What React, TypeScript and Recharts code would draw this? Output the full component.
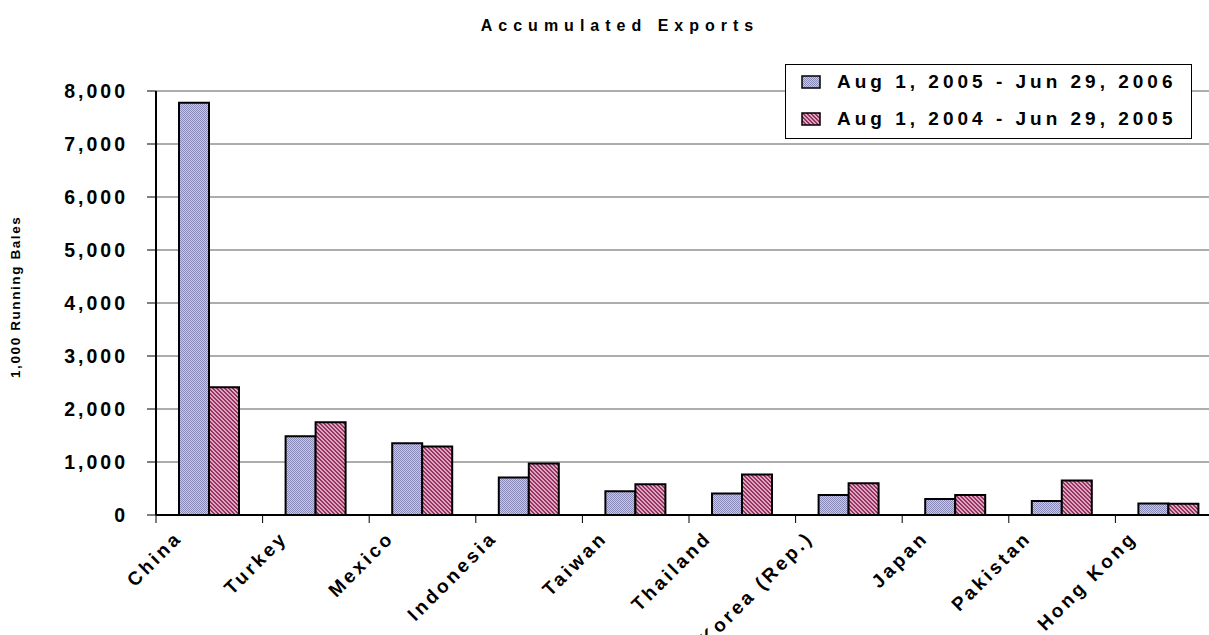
import { Bar, BarChart, CartesianGrid, XAxis, YAxis } from "recharts";

const countries = [
  "China",
  "Turkey",
  "Mexico",
  "Indonesia",
  "Taiwan",
  "Thailand",
  "Korea (Rep.)",
  "Japan",
  "Pakistan",
  "Hong Kong",
];
const current = [7780, 1485, 1353, 706, 447, 404, 377, 302, 264, 215];
const previous = [2410, 1751, 1291, 970, 579, 762, 598, 377, 649, 212];
const yTicks = [0, 1000, 2000, 3000, 4000, 5000, 6000, 7000, 8000];
const seriesNames = ["Aug 1, 2005 - Jun 29, 2006", "Aug 1, 2004 - Jun 29, 2005"];

const data = countries.map((name, i) => ({
  name,
  current: current[i],
  previous: previous[i],
}));

const FONT = "'Liberation Sans', Arial, sans-serif";
const CHART_W = 1230;
const PLOT_LEFT = 156;
const PLOT_RIGHT = 8;
const BAND = (CHART_W - PLOT_LEFT - PLOT_RIGHT) / countries.length;
const AXIS_Y = 515;

function XTick({ x, payload }: any) {
  // longer labels sit a bit further left, like the original
  const shift = 20 + 1.2 * String(payload.value).length;
  return (
    <g>
      <line x1={x - BAND / 2} y1={AXIS_Y} x2={x - BAND / 2} y2={AXIS_Y + 8} stroke="#000" strokeWidth={1} />
      <text
        transform={`translate(${x - shift},${AXIS_Y + 24}) rotate(-45)`}
        textAnchor="end"
        fontFamily={FONT}
        fontWeight="bold"
        fontSize={19}
        letterSpacing={3.2}
        fill="#000"
      >
        {payload.value}
      </text>
    </g>
  );
}

function YTick({ y, payload }: any) {
  return (
    <text
      x={128}
      y={y}
      dy="0.36em"
      textAnchor="end"
      fontFamily={FONT}
      fontWeight="bold"
      fontSize={19.5}
      letterSpacing={3}
      fill="#000"
    >
      {payload.value.toLocaleString("en-US")}
    </text>
  );
}

function YLabel() {
  return (
    <g>
      <defs>
        <clipPath id="ylabelClip">
          <rect x={0} y={214} width={40} height={200} />
        </clipPath>
      </defs>
      <g clipPath="url(#ylabelClip)">
        <text
          transform="translate(20,378) rotate(-90)"
          textAnchor="start"
          fontFamily={FONT}
          fontWeight="bold"
          fontSize={13.5}
          letterSpacing={1.6}
          fill="#000"
        >
          1,000 Running Bales
        </text>
      </g>
    </g>
  );
}

function LegendBox() {
  const fills = ["url(#patBlue)", "url(#patPink)"];
  return (
    <div
      style={{
        position: "absolute",
        left: 785,
        top: 64,
        background: "#fff",
        border: "1.5px solid #000",
        width: 407,
        height: 75,
        boxSizing: "border-box",
        padding: "1px 0 0 15px",
      }}
    >
      {seriesNames.map((s, i) => (
        <div key={s} style={{ display: "flex", alignItems: "center", height: 32, marginBottom: 5 }}>
          <svg width={20} height={14} style={{ marginRight: 16 }}>
            <rect x={1} y={1} width={18} height={12} fill={fills[i]} stroke="#000" strokeWidth={1.5} />
          </svg>
          <span
            style={{
              fontFamily: FONT,
              fontWeight: "bold",
              fontSize: 19,
              letterSpacing: 4,
              color: "#000",
              whiteSpace: "nowrap",
            }}
          >
            {s}
          </span>
        </div>
      ))}
    </div>
  );
}

export default function App() {
  return (
    <div
      style={{
        position: "absolute",
        left: 0,
        top: 0,
        width: 1209,
        height: 635,
        overflow: "hidden",
        background: "#fff",
      }}
    >
      <svg width={0} height={0} style={{ position: "absolute" }}>
        <defs>
          <pattern id="patBlue" width={2} height={2} patternUnits="userSpaceOnUse">
            <rect width={2} height={2} fill="#c8c8de" />
            <rect width={1} height={1} fill="#8a8ab8" />
            <rect x={1} y={1} width={1} height={1} fill="#8a8ab8" />
          </pattern>
          <pattern id="patPink" width={4} height={4} patternUnits="userSpaceOnUse">
            <rect width={4} height={4} fill="#dca8be" />
            <rect x={0} y={0} width={2} height={1} fill="#993366" />
            <rect x={1} y={1} width={2} height={1} fill="#993366" />
            <rect x={2} y={2} width={2} height={1} fill="#993366" />
            <rect x={3} y={3} width={1} height={1} fill="#993366" />
            <rect x={0} y={3} width={1} height={1} fill="#993366" />
          </pattern>
        </defs>
      </svg>
      <div
        style={{
          position: "absolute",
          left: 0,
          top: 17,
          width: 1240,
          textAlign: "center",
          fontFamily: FONT,
          fontWeight: "bold",
          fontSize: 16,
          letterSpacing: 6,
          color: "#000",
        }}
      >
        Accumulated Exports
      </div>
      <BarChart
        width={CHART_W}
        height={635}
        data={data}
        margin={{ top: 91, right: PLOT_RIGHT, bottom: 20, left: 56 }}
        barSize={30}
        barGap={0}
      >
        <CartesianGrid horizontal={true} vertical={false} stroke="#5a5a5a" strokeWidth={1} />
        <XAxis
          dataKey="name"
          interval={0}
          height={100}
          axisLine={{ stroke: "#000", strokeWidth: 2 }}
          tickLine={false}
          tick={<XTick />}
        />
        <YAxis
          width={100}
          domain={[0, 8000]}
          ticks={yTicks}
          interval={0}
          axisLine={{ stroke: "#000", strokeWidth: 2 }}
          tickLine={{ stroke: "#000", strokeWidth: 1 }}
          tickSize={9}
          tick={<YTick />}
          label={<YLabel />}
        />
        <Bar dataKey="current" name={seriesNames[0]} fill="url(#patBlue)" stroke="#000" strokeWidth={2} isAnimationActive={false} />
        <Bar dataKey="previous" name={seriesNames[1]} fill="url(#patPink)" stroke="#000" strokeWidth={2} isAnimationActive={false} />
      </BarChart>
      <LegendBox />
    </div>
  );
}
